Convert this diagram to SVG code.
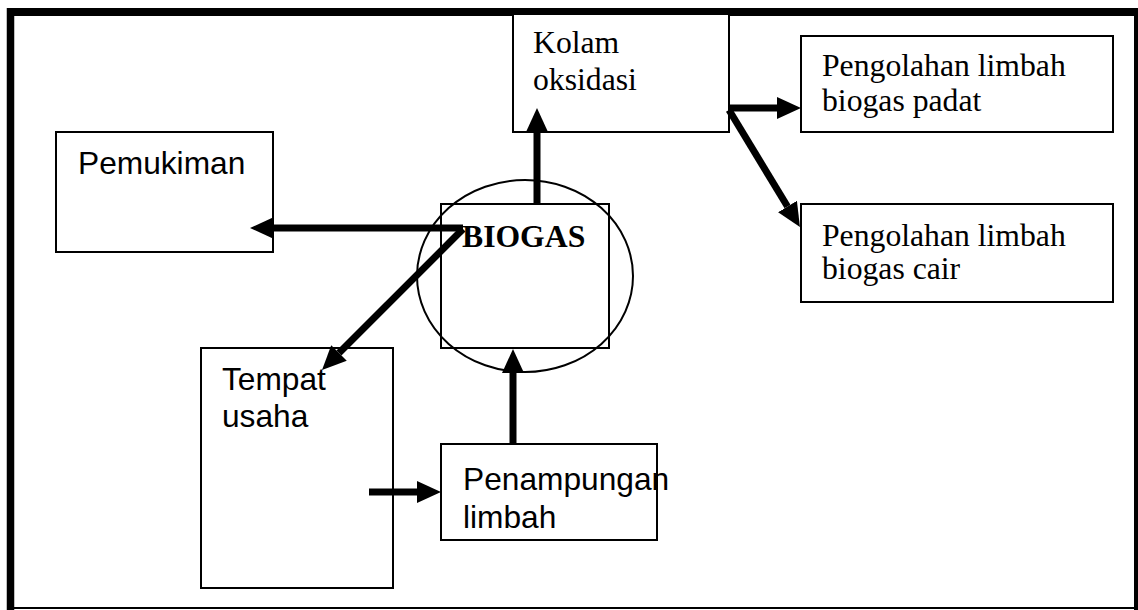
<svg xmlns="http://www.w3.org/2000/svg" width="1138" height="610" viewBox="0 0 1138 610">
<style>
.box{fill:#fff;stroke:#000;stroke-width:2}
.sans{font-family:"Liberation Sans",Arial,sans-serif;font-size:31.7px;fill:#000}
.serif{font-family:"Liberation Serif","Times New Roman",serif;font-size:31.7px;fill:#000}
.conn{stroke:#000;stroke-width:7;fill:none;marker-end:url(#ah)}
</style>
<defs>
<marker id="ah" markerUnits="userSpaceOnUse" markerWidth="26" markerHeight="24" refX="0" refY="11" orient="auto" viewBox="0 0 26 24">
<path d="M0,0 L24,11 L0,22 z" fill="#000"/>
</marker>
</defs>
<rect width="1138" height="610" fill="#fff"/>
<g id="frame" stroke="#000">
<line x1="7" y1="12" x2="1138" y2="12" stroke-width="8"/>
<line x1="10.5" y1="8" x2="10.5" y2="610" stroke-width="7.5"/>
<line x1="1137" y1="8" x2="1137" y2="610" stroke-width="6"/>
<line x1="10" y1="608" x2="1138" y2="608" stroke-width="2"/>
</g>
<g id="pemukiman">
<rect class="box" x="56" y="132" width="217" height="120"/>
<text class="sans" x="78" y="174">Pemukiman</text>
</g>
<g id="kolam">
<rect class="box" x="513" y="14" width="216" height="118"/>
<text class="serif" x="533" y="53">Kolam</text>
<text class="serif" x="533" y="90">oksidasi</text>
</g>
<g id="padat">
<rect class="box" x="801" y="36" width="312" height="96"/>
<text class="serif" x="822" y="76">Pengolahan limbah</text>
<text class="serif" x="822" y="111">biogas padat</text>
</g>
<g id="cair">
<rect class="box" x="801" y="204" width="312" height="98"/>
<text class="serif" x="822" y="246">Pengolahan limbah</text>
<text class="serif" x="822" y="279">biogas cair</text>
</g>
<g id="biogas">
<rect x="441" y="204" width="168" height="144" fill="none" stroke="#000" stroke-width="2"/>
<ellipse cx="525" cy="276" rx="108" ry="96" fill="none" stroke="#000" stroke-width="2"/>
<text class="serif" x="462" y="247" font-weight="bold">BIOGAS</text>
</g>
<g id="tempat">
<rect class="box" x="201" y="348" width="192" height="240"/>
<text class="sans" x="222" y="390">Tempat</text>
<text class="sans" x="222" y="427">usaha</text>
</g>
<g id="penampungan">
<rect class="box" x="441" y="444" width="216" height="96"/>
<text class="sans" x="463" y="490">Penampungan</text>
<text class="sans" x="463" y="528">limbah</text>
</g>
<g id="connectors">
<line class="conn" x1="463" y1="228" x2="274" y2="228"/>
<line class="conn" x1="537" y1="204" x2="537" y2="132"/>
<line class="conn" x1="729" y1="108" x2="777" y2="108"/>
<line class="conn" x1="729" y1="110" x2="787.5" y2="206.5"/>
<line class="conn" x1="463" y1="229" x2="339" y2="353"/>
<line class="conn" x1="369" y1="492" x2="417" y2="492"/>
<line class="conn" x1="513" y1="444" x2="513" y2="373"/>
</g>
</svg>
